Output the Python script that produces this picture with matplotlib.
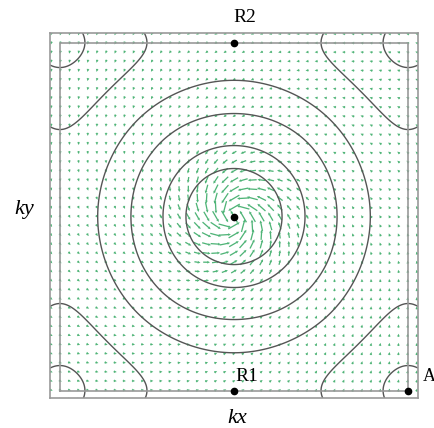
import numpy as np
import matplotlib
matplotlib.use("Agg")
import matplotlib.pyplot as plt

# band model E = cos kx + cos ky + t2 cos kx cos ky  (k in units of pi)
t2 = 0.7
levels = [-1.27, -1.0, -0.32, 0.515, 1.485, 2.10]

# vector field settings
n_grid = 41
k_max = 1.05
base_len = 0.018
peak_len = 0.06
core_radius = 0.30
spiral_deg = 30

# special points
point_x = [0, 0, 0, 1]
point_y = [0, 1, -1, -1]
label_text = ["R2", "R1", "A"]
label_x = [0.06, 0.075, 1.082]
label_y = [1.145, -0.922, -0.922]

lim = 1.057

fig = plt.figure(figsize=(4.35, 4.28), dpi=100)
ax = fig.add_axes([50 / 435, 30 / 428, 368 / 435, 365 / 428])

# contours
k = np.linspace(-lim, lim, 400)
KX, KY = np.meshgrid(k, k)
E = np.cos(np.pi * KX) + np.cos(np.pi * KY) + t2 * np.cos(np.pi * KX) * np.cos(np.pi * KY)
ax.contour(KX, KY, E, levels=levels, colors="#555555", linewidths=1.0,
           linestyles="solid")

# spiral vector field
g = np.linspace(-k_max, k_max, n_grid)
GX, GY = np.meshgrid(g, g)
r = np.hypot(GX, GY)
th = np.arctan2(GY, GX)
a = np.deg2rad(spiral_deg)
mag = base_len + peak_len * np.exp(-(r / core_radius) ** 2)
ang = th + np.pi / 2 + a
U = mag * np.cos(ang)
V = mag * np.sin(ang)
ax.quiver(GX, GY, U, V, color="#4fb477", angles="xy", scale_units="xy", scale=1,
          width=0.0035, headwidth=2.2, headlength=2.2, headaxislength=2.0, pivot="mid")

# first zone boundary
ax.plot([-1, 1, 1, -1, -1], [-1, -1, 1, 1, -1], color="#999999", lw=1.2)

# points
ax.plot(point_x, point_y, "o", color="black", ms=4.5, zorder=5)

for t, x, y in zip(label_text, label_x, label_y):
    ax.text(x, y, t, ha="left" if t == "A" else "center", va="center",
            fontsize=13 if t == "A" else 14, family="Liberation Serif", clip_on=False)

ax.text(-1.207, 0.043, "ky", ha="center", va="center", fontsize=16,
        family="Liberation Serif", style="italic")
ax.text(0.017, -1.158, "kx", ha="center", va="center", fontsize=16,
        family="Liberation Serif", style="italic")

ax.set_xlim(-lim, lim)
ax.set_ylim(-1.043, 1.055)
ax.set_xticks([])
ax.set_yticks([])
for s in ax.spines.values():
    s.set_color("#999999")
    s.set_linewidth(1.2)

plt.savefig("out.png", dpi=100)
plt.close()
